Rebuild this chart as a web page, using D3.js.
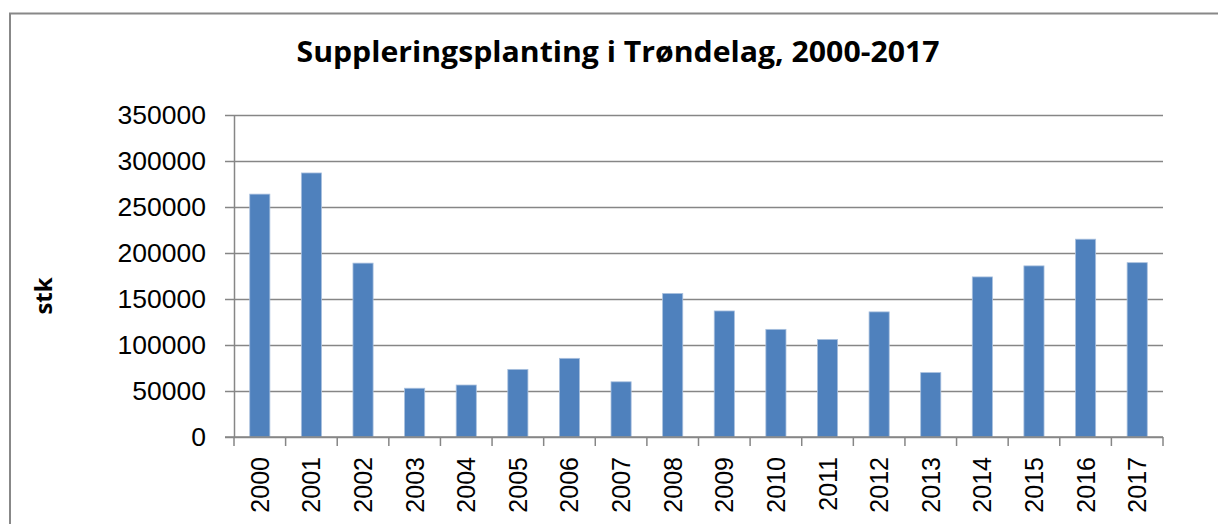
<!DOCTYPE html>
<html>
<head>
<meta charset="utf-8">
<script src="https://cdn.jsdelivr.net/npm/d3@7"></script>
<style>
  body { margin: 0; background: #fff; }
  #chart_container { width: 1218px; height: 524px; }
  .axis path, .axis line { stroke: #868686; stroke-width: 1.5px; }
</style>
</head>
<body>
<div id="chart_container"></div>
<script>
var years_chart  = ["2000", "2001", "2002", "2003", "2004", "2005", "2006", "2007", "2008",
                    "2009", "2010", "2011", "2012", "2013", "2014", "2015", "2016", "2017"];
var values_chart = [264000, 287000, 189000, 53000, 56500, 73500, 85500, 60000, 156000,
                    137000, 117000, 106000, 136000, 70000, 174000, 186000, 215000, 189500];
var y_ticks_chart = [0, 50000, 100000, 150000, 200000, 250000, 300000, 350000];
var title_chart   = "Suppleringsplanting i Trøndelag, 2000-2017";
var y_label_chart = "stk";

var svg_chart    = null;
var x_chart      = null;
var y_chart      = null;
var left_chart   = 234;
var right_chart  = 1163;
var top_chart    = 115;
var bottom_chart = 437;

function chart_init () {
  svg_chart = d3.select("#chart_container").append("svg")
    .attr("width", 1218)
    .attr("height", 524);

  // outer frame, runs off the right and bottom edge like in the picture
  svg_chart.append("rect")
    .attr("x", 10)
    .attr("y", 13.5)
    .attr("width", 1240)
    .attr("height", 540)
    .attr("fill", "#fff")
    .attr("stroke", "#888")
    .attr("stroke-width", 2);

  x_chart = d3.scaleBand()
    .domain(years_chart)
    .range([left_chart, right_chart])
    .paddingInner(0.61)
    .paddingOuter(0.305);
  y_chart = d3.scaleLinear()
    .domain([0, 350000])
    .range([bottom_chart, top_chart]);

  // grid lines
  svg_chart.append("g")
    .attr("class", "axis grid")
    .attr("transform", "translate(" + left_chart + ",0)")
    .call(d3.axisLeft(y_chart).tickValues(y_ticks_chart)
      .tickSize(-(right_chart - left_chart)).tickFormat(""))
    .call(function (g) { g.select(".domain").remove(); });

  // y axis with labels
  var y_axis = svg_chart.append("g")
    .attr("class", "axis")
    .attr("transform", "translate(" + left_chart + ",0)")
    .call(d3.axisLeft(y_chart).tickValues(y_ticks_chart).tickSize(9).tickSizeOuter(0)
      .tickPadding(19).tickFormat(d3.format("d")));
  y_axis.selectAll("text")
    .attr("fill", "#000")
    .style("font-family", "'Liberation Sans', Arial, sans-serif")
    .style("font-size", "26.5px");

  // bars
  svg_chart.append("g").selectAll("rect")
    .data(values_chart)
    .enter().append("rect")
    .attr("x", function (d, i) { return x_chart(years_chart[i]); })
    .attr("y", function (d) { return y_chart(d); })
    .attr("width", x_chart.bandwidth())
    .attr("height", function (d) { return bottom_chart - y_chart(d); })
    .attr("fill", "#4f81bd")
    .attr("stroke", "#a9c0de")
    .attr("stroke-width", 0.8);

  // x axis: ticks sit between the categories
  var step = x_chart.step();
  var bounds = d3.range(years_chart.length + 1).map(function (i) { return left_chart + i*step; });
  var x_axis = svg_chart.append("g").attr("class", "axis");
  x_axis.append("line")
    .attr("x1", left_chart - 9).attr("x2", right_chart)
    .attr("y1", bottom_chart).attr("y2", bottom_chart);
  x_axis.selectAll("line.tick")
    .data(bounds)
    .enter().append("line")
    .attr("class", "tick")
    .attr("x1", function (d) { return d; }).attr("x2", function (d) { return d; })
    .attr("y1", bottom_chart).attr("y2", bottom_chart + 9);
  x_axis.selectAll("text")
    .data(years_chart)
    .enter().append("text")
    .attr("transform", function (d) {
      return "translate(" + (x_chart(d) + x_chart.bandwidth()/2 + 9) + "," + (bottom_chart + 20) + ") rotate(-90)";
    })
    .attr("text-anchor", "end")
    .attr("fill", "#000")
    .style("font-family", "'Liberation Sans', Arial, sans-serif")
    .style("font-size", "25px")
    .text(function (d) { return d; });

  // title
  svg_chart.append("text")
    .attr("x", 618)
    .attr("y", 62)
    .attr("text-anchor", "middle")
    .attr("textLength", 643)
    .attr("lengthAdjust", "spacingAndGlyphs")
    .style("font-family", "'Open Sans', 'Noto Sans', sans-serif")
    .style("font-weight", "bold")
    .style("font-size", "28px")
    .text(title_chart);

  // y axis title
  svg_chart.append("text")
    .attr("transform", "translate(52,296) rotate(-90)")
    .attr("text-anchor", "middle")
    .style("font-family", "'Open Sans', 'Noto Sans', sans-serif")
    .style("font-weight", "bold")
    .style("font-size", "24px")
    .text(y_label_chart);
}
chart_init();
</script>
</body>
</html>
